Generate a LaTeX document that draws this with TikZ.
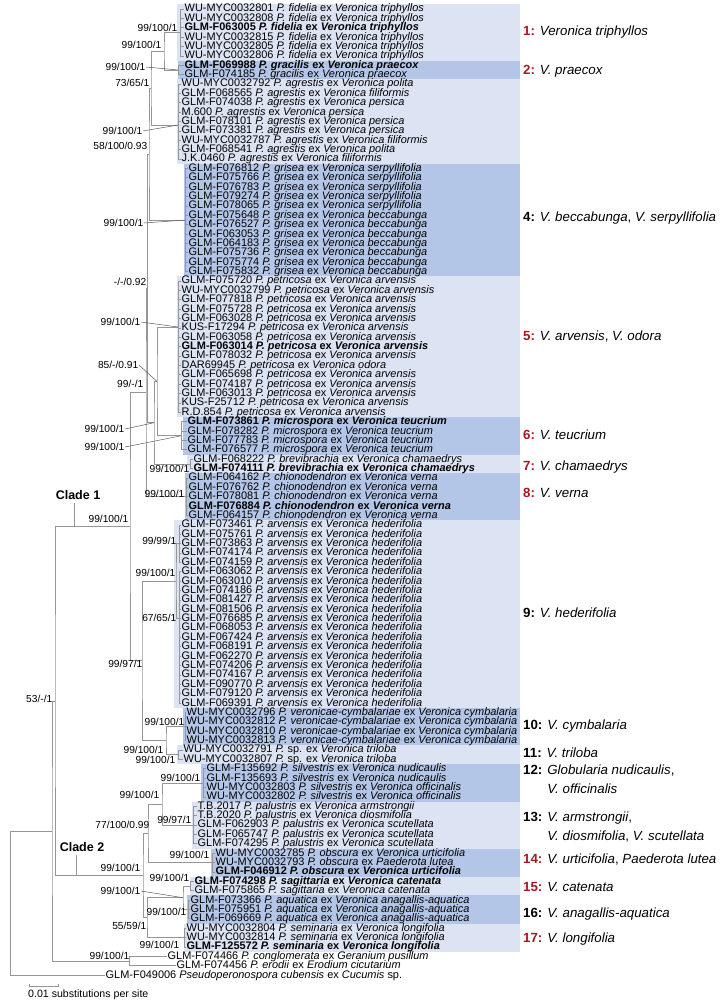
\documentclass[tikz,border=0pt]{standalone}
\usepackage{fontspec}
\setmainfont{Liberation Sans}
\definecolor{boxlight}{RGB}{220,227,242}
\definecolor{boxdark}{RGB}{180,198,231}
\definecolor{numred}{RGB}{165,25,35}
\definecolor{branch}{RGB}{150,150,150}
\newcommand{\rowy}[1]{9+(#1-1)*9.38}
\newcommand{\gnum}[2]{\textcolor{#1}{\textbf{#2:}}}

\begin{document}
\begin{tikzpicture}[
    x=1pt, y=-1pt,
    leaf/.style={anchor=west, inner sep=0.5pt, text height=7.8pt, text depth=2pt,
        font=\fontsize{10.95}{10}\selectfont},
    leafb/.style={leaf, font=\fontsize{10.95}{10}\selectfont\bfseries},
    bs/.style={anchor=east, inner sep=0.5pt, font=\fontsize{10.2}{10}\selectfont},
    grp/.style={anchor=west, inner sep=0pt, align=left, font=\fontsize{13.3}{19}\selectfont},
    br/.style={draw=branch, line width=0.8pt},
    lead/.style={draw=black!65, line width=0.5pt}
]
\useasboundingbox (0,0) rectangle (720,1001);

% coloured bands
\fill[boxlight] (177,4.3) rectangle (520,60.6);
\fill[boxdark] (178,60.6) rectangle (520,79.4);
\fill[boxlight] (177,79.4) rectangle (520,163.8);
\fill[boxdark] (184,163.8) rectangle (520,276.3);
\fill[boxlight] (177,276.3) rectangle (520,417.0);
\fill[boxdark] (183,417.0) rectangle (520,454.6);
\fill[boxlight] (187,454.6) rectangle (520,473.3);
\fill[boxdark] (185,473.3) rectangle (520,520.2);
\fill[boxlight] (174,520.2) rectangle (520,707.8);
\fill[boxdark] (183,707.8) rectangle (520,745.3);
\fill[boxlight] (177,745.3) rectangle (520,764.1);
\fill[boxdark] (201,764.1) rectangle (520,801.6);
\fill[boxlight] (192,801.6) rectangle (520,848.5);
\fill[boxdark] (211,848.5) rectangle (520,876.6);
\fill[boxlight] (190,876.6) rectangle (520,895.4);
\fill[boxdark] (187,895.4) rectangle (520,923.5);
\fill[boxlight] (184,923.5) rectangle (520,951.7);

% leaves
\foreach \r/\id in {1/WU-MYC0032801,2/WU-MYC0032808,4/WU-MYC0032815,5/WU-MYC0032805,6/WU-MYC0032806}{
  \node[leaf] (l\r) at (184,{\rowy{\r}}) {\id{} \textit{P. fidelia} ex \textit{Veronica triphyllos}};
}
\node[leafb] (l3) at (184,{\rowy{3}}) {GLM-F063005 \textit{P. fidelia} ex \textit{Veronica triphyllos}};
\node[leafb] (l7) at (184,{\rowy{7}}) {GLM-F069988 \textit{P. gracilis} ex \textit{Veronica praecox}};
\node[leaf] (l8) at (184,{\rowy{8}}) {GLM-F074185 \textit{P. gracilis} ex \textit{Veronica praecox}};
\foreach \r/\id/\h in {9/WU-MYC0032792/polita,10/GLM-F068565/filiformis,11/GLM-F074038/persica,12/M.600/persica,13/GLM-F078101/persica,14/GLM-F073381/persica,15/WU-MYC0032787/filiformis,16/GLM-F068541/polita,17/J.K.0460/filiformis}{
  \node[leaf] (l\r) at (181,{\rowy{\r}}) {\id{} \textit{P. agrestis} ex \textit{Veronica \h}};
}
\foreach \r/\id/\h in {18/GLM-F076812/serpyllifolia,19/GLM-F075766/serpyllifolia,20/GLM-F076783/serpyllifolia,21/GLM-F079274/serpyllifolia,22/GLM-F078065/serpyllifolia,23/GLM-F075648/beccabunga,24/GLM-F076527/beccabunga,25/GLM-F063053/beccabunga,26/GLM-F064183/beccabunga,27/GLM-F075736/beccabunga,28/GLM-F075774/beccabunga,29/GLM-F075832/beccabunga}{
  \node[leaf] (l\r) at (188,{\rowy{\r}}) {\id{} \textit{P. grisea} ex \textit{Veronica \h}};
}
\foreach \r/\id/\h in {30/GLM-F075720/arvensis,31/WU-MYC0032799/arvensis,32/GLM-F077818/arvensis,33/GLM-F075728/arvensis,34/GLM-F063028/arvensis,35/KUS-F17294/arvensis,36/GLM-F063058/arvensis,38/GLM-F078032/arvensis,39/DAR69945/odora,40/GLM-F065698/arvensis,41/GLM-F074187/arvensis,42/GLM-F063013/arvensis,43/KUS-F25712/arvensis,44/R.D.854/arvensis}{
  \node[leaf] (l\r) at (181,{\rowy{\r}}) {\id{} \textit{P. petricosa} ex \textit{Veronica \h}};
}
\node[leafb] (l37) at (181,{\rowy{37}}) {GLM-F063014 \textit{P. petricosa} ex \textit{Veronica arvensis}};
\node[leafb] (l45) at (187,{\rowy{45}}) {GLM-F073861 \textit{P. microspora} ex \textit{Veronica teucrium}};
\foreach \r/\id in {46/GLM-F078282,47/GLM-F077783,48/GLM-F076577}{
  \node[leaf] (l\r) at (187,{\rowy{\r}}) {\id{} \textit{P. microspora} ex \textit{Veronica teucrium}};
}
\node[leaf] (l49) at (193,{\rowy{49}}) {GLM-F068222 \textit{P. brevibrachia} ex \textit{Veronica chamaedrys}};
\node[leafb] (l50) at (193,{\rowy{50}}) {GLM-F074111 \textit{P. brevibrachia} ex \textit{Veronica chamaedrys}};
\foreach \r/\id in {51/GLM-F064162,52/GLM-F076762,53/GLM-F078081,55/GLM-F064157}{
  \node[leaf] (l\r) at (188,{\rowy{\r}}) {\id{} \textit{P. chionodendron} ex \textit{Veronica verna}};
}
\node[leafb] (l54) at (188,{\rowy{54}}) {GLM-F076884 \textit{P. chionodendron} ex \textit{Veronica verna}};
\foreach \r/\id in {56/GLM-F073461,57/GLM-F075761,58/GLM-F073863,59/GLM-F074174,60/GLM-F074159,61/GLM-F063062,62/GLM-F063010,63/GLM-F074186,64/GLM-F081427,65/GLM-F081506,66/GLM-F076685,67/GLM-F068053,68/GLM-F067424,69/GLM-F068191,70/GLM-F062270,71/GLM-F074206,72/GLM-F074167,73/GLM-F090770,74/GLM-F079120,75/GLM-F069391}{
  \node[leaf] (l\r) at (181,{\rowy{\r}}) {\id{} \textit{P. arvensis} ex \textit{Veronica hederifolia}};
}
\foreach \r/\id in {76/WU-MYC0032796,77/WU-MYC0032812,78/WU-MYC0032810,79/WU-MYC0032813}{
  \node[leaf] (l\r) at (186,{\rowy{\r}}) {\id{} \textit{P. veronicae-cymbalariae} ex \textit{Veronica cymbalaria}};
}
\foreach \r/\id in {80/WU-MYC0032791,81/WU-MYC0032807}{
  \node[leaf] (l\r) at (183,{\rowy{\r}}) {\id{} \textit{P.} sp. ex \textit{Veronica triloba}};
}
\foreach \r/\id/\h in {82/GLM-F135692/nudicaulis,83/GLM-F135693/nudicaulis,84/WU-MYC0032803/officinalis,85/WU-MYC0032802/officinalis}{
  \node[leaf] (l\r) at (206,{\rowy{\r}}) {\id{} \textit{P. silvestris} ex \textit{Veronica \h}};
}
\foreach \r/\id/\h in {86/T.B.2017/armstrongii,87/T.B.2020/diosmifolia,88/GLM-F062903/scutellata,89/GLM-F065747/scutellata,90/GLM-F074295/scutellata}{
  \node[leaf] (l\r) at (197,{\rowy{\r}}) {\id{} \textit{P. palustris} ex \textit{Veronica \h}};
}
\foreach \r/\id/\h in {91/WU-MYC0032785/Veronica urticifolia,92/WU-MYC0032793/Paederota lutea}{
  \node[leaf] (l\r) at (215,{\rowy{\r}}) {\id{} \textit{P. obscura} ex \textit{\h}};
}
\node[leafb] (l93) at (215,{\rowy{93}}) {GLM-F046912 \textit{P. obscura} ex \textit{Veronica urticifolia}};
\node[leafb] (l94) at (194,{\rowy{94}}) {GLM-F074298 \textit{P. sagittaria} ex \textit{Veronica catenata}};
\node[leaf] (l95) at (194,{\rowy{95}}) {GLM-F075865 \textit{P. sagittaria} ex \textit{Veronica catenata}};
\foreach \r/\id in {96/GLM-F073366,97/GLM-F075951,98/GLM-F069669}{
  \node[leaf] (l\r) at (190,{\rowy{\r}}) {\id{} \textit{P. aquatica} ex \textit{Veronica anagallis-aquatica}};
}
\foreach \r/\id in {99/WU-MYC0032804,100/WU-MYC0032814}{
  \node[leaf] (l\r) at (186,{\rowy{\r}}) {\id{} \textit{P. seminaria} ex \textit{Veronica longifolia}};
}
\node[leafb] (l101) at (186,{\rowy{101}}) {GLM-F125572 \textit{P. seminaria} ex \textit{Veronica longifolia}};
\node[leaf] (l102) at (167,{\rowy{102}}) {GLM-F074466 \textit{P. conglomerata} ex \textit{Geranium pusillum}};
\node[leaf] (l103) at (176,{\rowy{103}}) {GLM-F074456 \textit{P. erodii} ex \textit{Erodium cicutarium}};
\node[leaf] (l104) at (105,{\rowy{104}}) {GLM-F049006 \textit{Pseudoperonospora cubensis} ex \textit{Cucumis} sp.};

% tree nodes
\coordinate (g1) at (180,32.45);
\coordinate (g2) at (178,69.97);
\coordinate (t12) at (164,51.2);
\coordinate (g3) at (178,125);
\coordinate (t123) at (151,88.1);
\coordinate (g4) at (185,220.05);
\coordinate (t1234) at (149,154.1);
\coordinate (g5) at (178,327);
\coordinate (g6) at (181,435.8);
\coordinate (tq) at (157,381.4);
\coordinate (g7) at (190,463.9);
\coordinate (tp) at (154,422.7);
\coordinate (tv) at (147.5,288.4);
\coordinate (g8) at (186,496.8);
\coordinate (tu) at (146,392.6);
\coordinate (ts1) at (179,543.7);
\coordinate (ts2) at (179,618);
\coordinate (t9) at (176,580.9);
\coordinate (g10) at (185,726.6);
\coordinate (g11) at (178,754.7);
\coordinate (t1011) at (166,740.6);
\coordinate (tw) at (142,660.8);
\coordinate (cl1) at (130,526.7);
\coordinate (g12) at (203,782.9);
\coordinate (g13) at (193,825.1);
\coordinate (t1213) at (162,804);
\coordinate (g14) at (212,862.6);
\coordinate (t1214) at (148,833.3);
\coordinate (g15) at (190,886);
\coordinate (g16) at (188,909.5);
\coordinate (t1516) at (183,897.7);
\coordinate (g17) at (184,937.6);
\coordinate (t1517) at (147,917.7);
\coordinate (cl2) at (143,875.5);
\coordinate (ta) at (55,701.1);
\coordinate (tce) at (129,961.1);
\coordinate (tb) at (52,831.1);
\coordinate (troot) at (10,831.1);

% branches
\foreach \g/\a/\b in {g1/1/6,g2/7/8,g3/9/17,g4/18/29,g5/30/44,g6/45/48,g7/49/50,g8/51/55,ts1/56/60,ts2/61/75,g10/76/79,g11/80/81,g12/82/85,g13/86/90,g14/91/93,g15/94/95,g16/96/98,g17/99/101,tce/102/103}{
  \foreach \i in {\a,...,\b} \draw[br] (\g) |- (l\i.west);
}
\draw[br] (g1) -| (t12) |- (g2);
\draw[br] (t12) -| (t123) |- (g3);
\draw[br] (t123) -| (t1234) |- (g4);
\draw[br] (g5) -| (tq) |- (g6);
\draw[br] (tq) -| (tp) |- (g7);
\draw[br] (t1234) -| (tv) |- (tp);
\draw[br] (tv) -| (tu) |- (g8);
\draw[br] (ts1) -| (t9) |- (ts2);
\draw[br] (g10) -| (t1011) |- (g11);
\draw[br] (t9) -| (tw) |- (t1011);
\draw[br] (tu) -| (cl1) |- (tw);
\draw[br] (g12) -| (t1213) |- (g13);
\draw[br] (t1213) -| (t1214) |- (g14);
\draw[br] (g15) -| (t1516) |- (g16);
\draw[br] (t1516) -| (t1517) |- (g17);
\draw[br] (t1214) -| (cl2) |- (t1517);
\draw[br] (cl1) -| (ta) |- (cl2);
\draw[br] (ta) -| (tb) |- (tce);
\draw[br] (tb) -| (troot) |- (l104.west);

% support values
\node[bs] (b1) at (178,28) {99/100/1};
\node[bs] (b2) at (162,45) {99/100/1};
\node[bs] (b3) at (146,67) {99/100/1};
\node[bs] (b4) at (150,83) {73/65/1};
\node[bs] (b5) at (143,131) {99/100/1};
\node[bs] (b6) at (148,146) {58/100/0.93};
\node[bs] (b7) at (144,223) {99/100/1};
\node[bs] (b8) at (147,282) {-/-/0.92};
\node[bs] (b9) at (141,322) {99/100/1};
\node[bs] (b10) at (139,365) {85/-/0.91};
\node[bs] (b11) at (144,384) {99/-/1};
\node[bs] (b12) at (125,429) {99/100/1};
\node[bs] (b13) at (125,447) {99/100/1};
\node[bs] (b14) at (190,469) {99/100/1};
\node[bs] (b15) at (185,494) {99/100/1};
\node[bs] (b16) at (129,519) {99/100/1};
\node[bs] (b17) at (177,541) {99/99/1};
\node[bs] (b18) at (176,573) {99/100/1};
\node[bs] (b19) at (177,618) {67/65/1};
\node[bs] (b20) at (143,664) {99/97/1};
\node[bs] (b21) at (53,699) {53/-/1};
\node[bs] (b22) at (185,722) {99/100/1};
\node[bs] (b23) at (164,750) {99/100/1};
\node[bs] (b24) at (176,760) {99/100/1};
\node[bs] (b25) at (201,778) {99/100/1};
\node[bs] (b26) at (160,795) {99/100/1};
\node[bs] (b27) at (192,820) {99/97/1};
\node[bs] (b28) at (150,825) {77/100/0.99};
\node[bs] (b29) at (210,855) {99/100/1};
\node[bs] (b30) at (141,868) {99/100/1};
\node[bs] (b31) at (190,878) {99/100/1};
\node[bs] (b32) at (141,891) {99/100/1};
\node[bs] (b33) at (187,912) {99/100/1};
\node[bs] (b34) at (147,926) {55/59/1};
\node[bs] (b35) at (180,945) {99/100/1};
\node[bs] (b36) at (130,956) {99/100/1};
\draw[lead] (b3.east) -- (g2);
\draw[lead] (b5.east) -- (g3);
\draw[lead] (b7.east) -- (g4);
\draw[lead] (b9.east) -- (g5);
\draw[lead] (b10.east) -- (tq);
\draw[lead] (b12.east) -- (tp);
\draw[lead] (b13.east) -- (g6);
\draw[lead] (b32.east) -- (t1516);

% clade names
\node[font=\fontsize{12.5}{14}\selectfont\bfseries] (c1lab) at (78,495) {Clade 1};
\node[font=\fontsize{12.5}{14}\selectfont\bfseries] (c2lab) at (82,847) {Clade 2};
\coordinate (c1t) at ([xshift=-4pt]c1lab.south);
\coordinate (c2t) at ([xshift=-6pt]c2lab.south);
\draw[br] (c1t) -- (c1t |- cl1);
\draw[br] (c2t) -- (c2t |- cl2);

% group names
\node[grp] (n1) at (523,32) {\gnum{numred}{1} \textit{Veronica triphyllos}};
\node[grp] (n2) at (523,71) {\gnum{numred}{2} \textit{V. praecox}};
\node[grp] (n4) at (523,218) {\gnum{black}{4} \textit{V. beccabunga}, \textit{V. serpyllifolia}};
\node[grp] (n5) at (523,337) {\gnum{numred}{5} \textit{V. arvensis}, \textit{V. odora}};
\node[grp] (n6) at (523,435) {\gnum{numred}{6} \textit{V. teucrium}};
\node[grp] (n7) at (523,467) {\gnum{numred}{7} \textit{V. chamaedrys}};
\node[grp] (n8) at (523,493) {\gnum{numred}{8} \textit{V. verna}};
\node[grp] (n9) at (523,613) {\gnum{black}{9} \textit{V. hederifolia}};
\node[grp] (n10) at (523,726) {\gnum{black}{10} \textit{V. cymbalaria}};
\node[grp] (n11) at (523,753) {\gnum{black}{11} \textit{V. triloba}};
\node[grp] (n12) at (523,779) {\gnum{black}{12} \textit{Globularia nudicaulis},\\\phantom{\textbf{12:} }\textit{V. officinalis}};
\node[grp] (n13) at (523,827.5) {\gnum{black}{13} \textit{V. armstrongii},\\\phantom{\textbf{13:} }\textit{V. diosmifolia}, \textit{V. scutellata}};
\node[grp] (n14) at (523,860) {\gnum{numred}{14} \textit{V. urticifolia}, \textit{Paederota lutea}};
\node[grp] (n15) at (523,887) {\gnum{numred}{15} \textit{V. catenata}};
\node[grp] (n16) at (523,914) {\gnum{black}{16} \textit{V. anagallis-aquatica}};
\node[grp] (n17) at (523,939) {\gnum{numred}{17} \textit{V. longifolia}};

% scale
\coordinate (sb1) at (29,986);
\coordinate (sb2) at (58,986);
\draw[br] ([yshift=2.5pt]sb1) -- (sb1) -- (sb2) -- ([yshift=2.5pt]sb2);
\node[anchor=west, inner sep=0pt, font=\fontsize{10.6}{12}\selectfont] (sbl) at (28,995) {0.01 substitutions per site};
\end{tikzpicture}
\end{document}
